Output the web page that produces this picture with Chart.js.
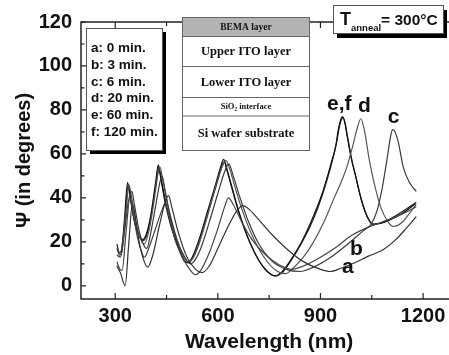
<!DOCTYPE html>
<html>
<head>
<meta charset="utf-8">
<script src="https://cdn.jsdelivr.net/npm/chart.js@4.4.1/dist/chart.umd.min.js"></script>
<style>
  html, body { margin: 0; padding: 0; background: #fff; overflow: hidden; }
  #psi_chart { display: block; }
</style>
</head>
<body>
<canvas id="psi_chart" width="470" height="355"></canvas>
<script>
// annealing times (legend) and curve names
var curveNames = ['a', 'b', 'c', 'd', 'e', 'f'];
var legendLines = ['a: 0 min.', 'b: 3 min.', 'c: 6 min.', 'd: 20 min.', 'e: 60 min.', 'f: 120 min.'];

// wavelength (nm) / Psi (degrees)
var aWl  = [305, 315, 329, 340, 350, 356, 370, 385, 395, 410, 430, 448, 456, 465, 485, 510, 535, 553, 575, 600, 630, 655, 673, 690, 720, 760, 800, 850, 900, 928, 960, 1000, 1040, 1083, 1120, 1150, 1180];
var aPsi = [9, 6, 0, 20, 37, 34, 20, 11, 8.5, 14, 28, 39, 41, 36, 24, 13, 7.5, 6, 9, 17, 27, 34, 36.5, 35, 30, 23, 17, 11, 7.5, 6.5, 8, 10.5, 13.5, 16.4, 21, 26, 31.5];

var bWl  = [305, 312, 320, 332, 343, 350, 365, 378, 385, 400, 420, 438, 446, 455, 475, 500, 520, 534, 550, 575, 600, 620, 631, 645, 670, 700, 740, 780, 815, 850, 900, 950, 986, 1030, 1080, 1130, 1180];
var bPsi = [11, 8, 7, 25, 40, 35, 22, 15, 13, 18, 27, 35, 37.5, 33, 21, 12, 7, 5, 7, 15, 26, 36, 40, 37, 29, 21, 14, 9.5, 7.5, 9, 13, 18, 22.4, 26, 29, 32, 36];

var cWl  = [305, 315, 325, 338, 349, 355, 370, 385, 392, 405, 420, 432, 437, 445, 460, 480, 500, 520, 530, 550, 575, 600, 620, 632, 645, 665, 690, 720, 760, 800, 840, 880, 930, 980, 1025, 1048, 1065, 1080, 1095, 1105, 1111, 1118, 1128, 1142, 1162, 1180];
var cPsi = [14, 13, 22, 38, 43, 38, 25, 18, 17, 25, 38, 48, 50, 44, 32, 21, 14, 10, 11, 17, 29, 42, 52, 55.5, 50, 40, 29, 19, 11, 7.5, 6.5, 8.5, 13, 19, 25, 28, 34, 44, 58, 68, 71, 70, 65, 54, 46.5, 43];

var dWl  = [305, 315, 325, 333, 340, 346, 360, 375, 385, 400, 415, 425, 431, 438, 455, 475, 495, 512, 525, 545, 570, 595, 615, 624, 633, 650, 670, 700, 735, 770, 798, 820, 850, 880, 910, 940, 960, 977, 995, 1008, 1018, 1028, 1042, 1058, 1078, 1098, 1113, 1140, 1160, 1180];
var dPsi = [17, 15, 24, 36, 46, 42, 29, 21, 19, 26, 40, 51, 54, 49, 36, 24, 15, 11, 12, 19, 32, 46, 55, 57, 54, 45, 35, 23, 13, 7, 5.5, 8, 13, 20, 29, 40, 47, 54, 64, 72, 76, 71, 58, 46, 35, 29, 27, 29, 33, 37];

var eWl  = [305, 312, 318, 327, 336, 342, 355, 370, 380, 392, 405, 418, 426, 432, 447, 465, 485, 503, 512, 525, 545, 570, 595, 610, 617, 624, 640, 660, 690, 720, 745, 767, 785, 810, 845, 879, 905, 928, 945, 952, 960, 964, 970, 977, 990, 1001, 1013, 1025, 1038, 1052, 1075, 1103, 1140, 1178];
var ePsi = [19, 15, 16, 30, 47, 42, 30, 23, 21, 24, 33, 47, 55, 50, 37, 26, 17, 11, 10.5, 13, 21, 34, 47, 55, 57.5, 54, 45, 34, 21, 11.5, 6.5, 4.5, 6, 11, 20, 31.5, 42, 54, 64, 71, 76, 77, 75, 69, 58, 51, 43, 36, 31, 28, 28.5, 30, 33, 37.3];

var fWl  = [305, 313, 320, 329, 338, 344, 357, 372, 382, 394, 407, 420, 428, 434, 449, 467, 487, 505, 515, 528, 548, 573, 598, 613, 620, 627, 643, 663, 693, 722, 748, 770, 788, 812, 847, 881, 907, 930, 947, 955, 962, 966, 972, 979, 992, 1003, 1015, 1027, 1040, 1055, 1078, 1105, 1142, 1180];
var fPsi = [17, 14, 16, 31, 46, 41, 29, 22, 20.5, 24, 34, 47, 54, 49, 37, 26, 17, 11, 10.5, 13, 21, 34, 47, 55, 56.5, 53, 44, 33, 20, 11, 6, 4.5, 6, 11, 20, 31, 42, 54, 65, 72, 76, 76.5, 74, 68, 57, 50, 42, 35.5, 30.5, 28, 28.5, 30.5, 34, 38];

// axis ticks
var xTicks = [300, 600, 900, 1200];
var xMinor = [450, 750, 1050];
var yTicks = [0, 20, 40, 60, 80, 100, 120];
var yMinor = [10, 30, 50, 70, 90, 110];

// layer stack inset
var layerNames = ['BEMA layer', 'Upper ITO layer', 'Lower ITO layer', 'SiO\u2082 interface', 'Si wafer substrate'];

var sans = "'Liberation Sans', Arial, sans-serif";
var serif = "'Liberation Serif', 'Times New Roman', serif";

function make_points(wl, psi)
{
    var pts = [];
    for (var i = 0; i < wl.length; i++)
        pts.push({x: wl[i], y: psi[i]});
    return pts;
}

var allWl = [aWl, bWl, cWl, dWl, eWl, fWl];
var allPsi = [aPsi, bPsi, cPsi, dPsi, ePsi, fPsi];
var lineColors = ['#333', '#444', '#3a3a3a', '#555', '#111', '#222'];

var datasets = curveNames.map(function (name, i) {
    return {
        label: name,
        data: make_points(allWl[i], allPsi[i]),
        borderColor: lineColors[i],
        borderWidth: 1.2,
        pointRadius: 0,
        fill: false,
        cubicInterpolationMode: 'monotone'
    };
});

// frame, inward ticks, curve letters and the three inset boxes
var decor = {
    id: 'decor',
    afterDraw: function (chart)
    {
        var c = chart.ctx, area = chart.chartArea;
        var xs = chart.scales.x, ys = chart.scales.y;
        c.save();

        c.strokeStyle = '#222';
        c.lineWidth = 1.5;
        c.strokeRect(area.left, area.top, area.right - area.left, area.bottom - area.top);

        c.lineWidth = 1.2;
        function tickX(v, len)
        {
            var px = xs.getPixelForValue(v);
            c.beginPath();
            c.moveTo(px, area.bottom); c.lineTo(px, area.bottom - len);
            c.moveTo(px, area.top); c.lineTo(px, area.top + len);
            c.stroke();
        }
        function tickY(v, len)
        {
            var py = ys.getPixelForValue(v);
            c.beginPath();
            c.moveTo(area.left, py); c.lineTo(area.left + len, py);
            c.moveTo(area.right, py); c.lineTo(area.right - len, py);
            c.stroke();
        }
        xTicks.forEach(function (v) { tickX(v, 6); });
        xMinor.forEach(function (v) { tickX(v, 4); });
        yTicks.forEach(function (v) { tickY(v, 5); });
        yMinor.forEach(function (v) { tickY(v, 3.5); });

        // curve letters
        c.fillStyle = '#111';
        c.font = 'bold 21px ' + sans;
        c.textAlign = 'left';
        c.textBaseline = 'alphabetic';
        var tags = [['e,f', 919, 80], ['d', 1010, 79], ['c', 1097, 74], ['b', 986, 14.1], ['a', 963, 5.9]];
        tags.forEach(function (t) {
            c.fillText(t[0], xs.getPixelForValue(t[1]), ys.getPixelForValue(t[2]));
        });

        // legend box with shadow
        c.fillStyle = '#000';
        c.fillRect(90, 32, 76, 122);
        c.fillStyle = '#fff';
        c.fillRect(86, 28, 76, 122);
        c.strokeStyle = '#555';
        c.lineWidth = 1;
        c.strokeRect(86.5, 28.5, 76, 122);
        c.fillStyle = '#111';
        c.font = 'bold 13.5px ' + sans;
        legendLines.forEach(function (s, i) {
            c.fillText(s, 91, 52 + i * 16.8);
        });

        // layer stack
        var bx = 182.5, bw = 127;
        var rows = [17.5, 36.5, 66.5, 97.5, 116, 150.5];
        var sizes = [9.5, 12.5, 12.5, 8.5, 12.5];
        c.fillStyle = '#fff';
        c.fillRect(bx, rows[0], bw, rows[5] - rows[0]);
        c.fillStyle = '#b4b4b4';
        c.fillRect(bx, rows[0], bw, rows[1] - rows[0]);
        c.strokeStyle = '#666';
        c.strokeRect(bx, rows[0], bw, rows[5] - rows[0]);
        c.beginPath();
        for (var r = 1; r < 5; r++)
        {
            c.moveTo(bx, rows[r]); c.lineTo(bx + bw, rows[r]);
        }
        c.stroke();
        c.fillStyle = '#111';
        c.textAlign = 'center';
        c.textBaseline = 'middle';
        layerNames.forEach(function (s, i) {
            c.font = 'bold ' + sizes[i] + 'px ' + serif;
            c.fillText(s, bx + bw / 2, (rows[i] + rows[i + 1]) / 2 + 0.5);
        });

        // annealing temperature box
        c.fillStyle = '#000';
        c.fillRect(337, 10, 110, 28);
        c.fillStyle = '#fff';
        c.fillRect(333, 5, 110, 28);
        c.strokeStyle = '#555';
        c.strokeRect(333.5, 5.5, 110, 28);
        c.fillStyle = '#111';
        c.textAlign = 'left';
        c.textBaseline = 'alphabetic';
        var tx = 340;
        c.font = 'bold 18px ' + sans;
        c.fillText('T', tx, 25);
        tx += c.measureText('T').width;
        c.font = 'bold 9.5px ' + sans;
        c.fillText('anneal', tx, 31);
        tx += c.measureText('anneal').width;
        c.font = 'bold 15.5px ' + sans;
        c.fillText('= 300\u00B0C', tx, 25);

        c.restore();
    }
};

new Chart(document.getElementById('psi_chart'),
    {
        type: 'line',
        data: { datasets: datasets },
        options:
        {
            responsive: false,
            animation: false,
            layout: { padding: { top: 22, right: 12.7, left: 0, bottom: 0 } },
            plugins:
            {
                legend: { display: false },
                tooltip: { enabled: false }
            },
            scales:
            {
                x:
                {
                    type: 'linear',
                    min: 200,
                    max: 1300,
                    afterFit: function (s) { s.height = 56; },
                    afterBuildTicks: function (s) { s.ticks = xTicks.map(function (v) { return {value: v}; }); },
                    grid: { display: false, drawTicks: false },
                    border: { display: false },
                    ticks: { autoSkip: false, maxRotation: 0, padding: 5, color: '#111', font: { family: sans, size: 20, weight: 'bold' },
                             callback: function (v) { return String(v); } },
                    title: { display: true, text: 'Wavelength (nm)', color: '#111', padding: { top: 0, bottom: 0 }, font: { family: sans, size: 21, weight: 'bold' } }
                },
                y:
                {
                    min: -6,
                    max: 120,
                    afterFit: function (s) { s.width = 81; },
                    afterBuildTicks: function (s) { s.ticks = yTicks.map(function (v) { return {value: v}; }); },
                    grid: { display: false, drawTicks: false },
                    border: { display: false },
                    ticks: { autoSkip: false, padding: 9, color: '#111', font: { family: sans, size: 20, weight: 'bold' },
                             callback: function (v) { return String(v); } },
                    title: { display: true, text: '\u03A8 (in degrees)', color: '#111', padding: { top: 12, bottom: 0 }, font: { family: sans, size: 20, weight: 'bold' } }
                }
            }
        },
        plugins: [decor]
    });
</script>
</body>
</html>
